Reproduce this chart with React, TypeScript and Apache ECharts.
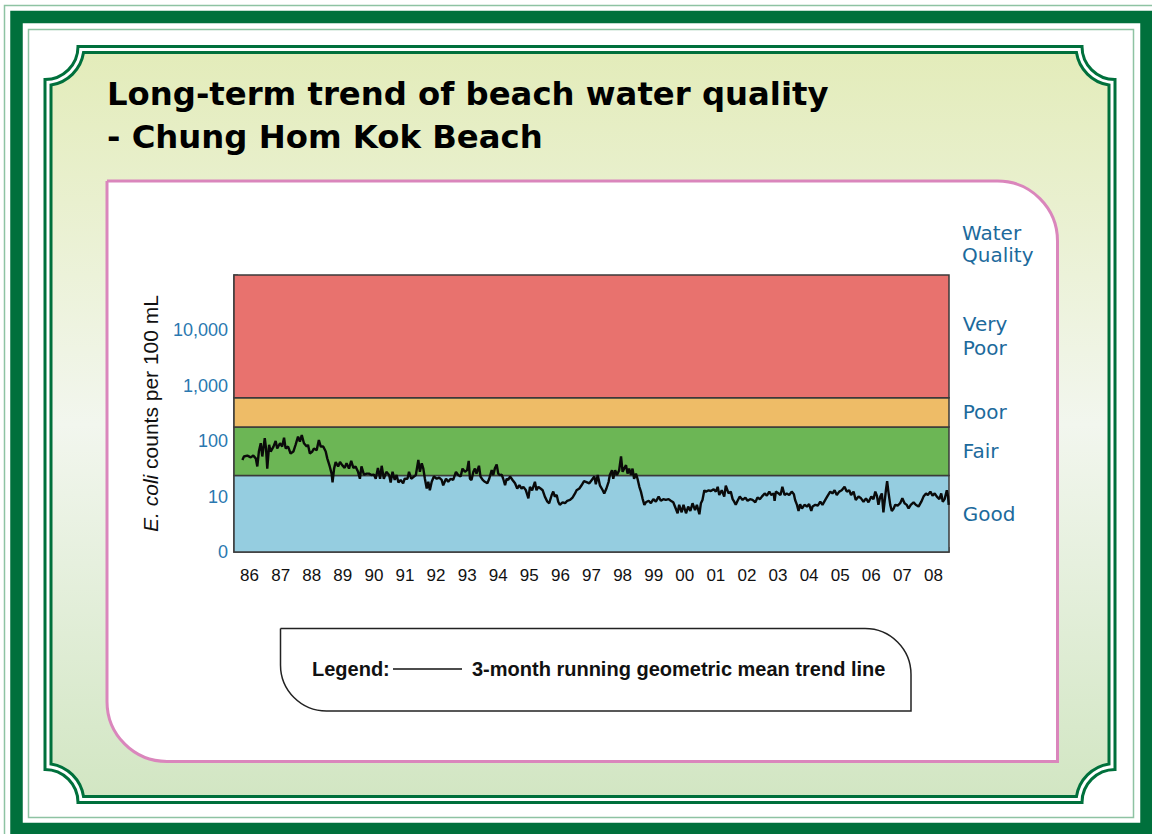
import React, { useEffect, useRef } from 'react';
import * as echarts from 'echarts';

// ---------- data ----------
const yearLabels = ['86', '87', '88', '89', '90', '91', '92', '93', '94', '95', '96', '97', '98', '99', '00', '01', '02', '03', '04', '05', '06', '07', '08'];
const yTickLabels = ['0', '10', '100', '1,000', '10,000'];
const bandNames = ['Good', 'Fair', 'Poor', 'Very\nPoor'];
const bandLimits = [1, 24, 180, 610, 100000];

const trend1986to1991: [number, number][] = [
  [1986.27, 46], [1986.32, 53], [1986.43, 55], [1986.54, 51], [1986.62, 55], [1986.70, 49], [1986.75, 35], [1986.80, 65], [1986.86, 92], [1986.91, 53],
  [1986.99, 113], [1987.03, 74], [1987.07, 32], [1987.13, 86], [1987.18, 65], [1987.27, 80], [1987.34, 101], [1987.39, 74], [1987.48, 92], [1987.55, 80],
  [1987.61, 116], [1987.66, 74], [1987.74, 80], [1987.82, 60], [1987.91, 65], [1987.98, 86], [1988.06, 121], [1988.12, 98], [1988.18, 129], [1988.25, 92],
  [1988.34, 80], [1988.38, 86], [1988.44, 60], [1988.52, 65], [1988.57, 74], [1988.66, 69], [1988.73, 105], [1988.79, 80], [1988.87, 80], [1988.95, 65],
  [1989.00, 49], [1989.08, 35], [1989.14, 26], [1989.17, 18], [1989.22, 32], [1989.27, 42], [1989.35, 35], [1989.41, 42], [1989.48, 37], [1989.56, 33],
  [1989.62, 40], [1989.70, 32], [1989.77, 44], [1989.84, 33], [1989.91, 35], [1989.99, 28], [1990.05, 21], [1990.10, 35], [1990.18, 25], [1990.27, 26],
  [1990.34, 26], [1990.42, 24.5], [1990.50, 25], [1990.56, 21], [1990.63, 33], [1990.70, 21], [1990.75, 36], [1990.82, 21], [1990.90, 28], [1990.99, 24.5],
  [1991.04, 18], [1991.10, 28], [1991.17, 20], [1991.23, 24.5], [1991.29, 18], [1991.36, 20], [1991.44, 17.4], [1991.49, 21], [1991.58, 21], [1991.63, 28],
  [1991.70, 21], [1991.79, 23],
];

const trend1991to1997: [number, number][] = [
  [1991.85, 24.5], [1991.93, 46], [1991.98, 28], [1992.04, 40], [1992.09, 32], [1992.14, 21], [1992.20, 14], [1992.25, 18.5], [1992.30, 13], [1992.36, 18.5],
  [1992.43, 23], [1992.52, 21], [1992.60, 22], [1992.68, 20], [1992.73, 16], [1992.82, 21], [1992.89, 18.5], [1992.97, 21], [1993.05, 20], [1993.14, 28],
  [1993.21, 24.5], [1993.29, 23], [1993.35, 32], [1993.43, 28], [1993.50, 30], [1993.55, 44], [1993.59, 21], [1993.64, 20], [1993.70, 28], [1993.75, 32],
  [1993.80, 26], [1993.88, 36], [1993.93, 23], [1994.00, 20], [1994.07, 18.5], [1994.15, 17.4], [1994.21, 21], [1994.29, 30], [1994.34, 24.5], [1994.39, 32],
  [1994.45, 38], [1994.50, 26], [1994.55, 24.5], [1994.61, 25], [1994.66, 21], [1994.72, 16], [1994.77, 21], [1994.82, 20], [1994.88, 23], [1994.96, 20],
  [1995.04, 17.4], [1995.11, 14], [1995.18, 16], [1995.25, 14], [1995.31, 15], [1995.39, 13], [1995.47, 9.3], [1995.52, 15], [1995.59, 13], [1995.68, 18.5],
  [1995.73, 13], [1995.79, 15], [1995.86, 14], [1995.93, 13], [1996.00, 10], [1996.08, 8.1], [1996.14, 7.6], [1996.22, 10.7], [1996.27, 12.3], [1996.32, 10],
  [1996.38, 10.7], [1996.43, 8.1], [1996.48, 7.1], [1996.57, 7.9], [1996.65, 7.6], [1996.72, 8.4], [1996.81, 8.7], [1996.89, 9.6], [1996.97, 11.4], [1997.02, 13],
  [1997.11, 14], [1997.18, 16], [1997.26, 19],
];

const trend1997to2003: [number, number][] = [
  [1997.32, 18.5], [1997.43, 17.4], [1997.51, 20], [1997.59, 23], [1997.64, 16.7], [1997.70, 24.5], [1997.77, 16], [1997.86, 13], [1997.91, 11.4], [1997.98, 14],
  [1998.05, 18.5], [1998.09, 24.5], [1998.16, 30], [1998.20, 21], [1998.26, 30], [1998.32, 24.5], [1998.39, 30], [1998.45, 53], [1998.50, 28], [1998.55, 32],
  [1998.61, 37], [1998.66, 26], [1998.71, 32], [1998.77, 24.5], [1998.82, 32], [1998.87, 21], [1998.93, 26], [1998.98, 21], [1999.04, 15], [1999.09, 12.3],
  [1999.14, 9.3], [1999.20, 7.1], [1999.25, 7.9], [1999.34, 8.4], [1999.41, 7.6], [1999.49, 9], [1999.57, 8.1], [1999.66, 10], [1999.73, 8.4], [1999.81, 9],
  [1999.89, 8.7], [1999.98, 9], [2000.05, 8.4], [2000.13, 7.9], [2000.21, 6.1], [2000.27, 5.0], [2000.32, 7.1], [2000.40, 5.2], [2000.46, 7.1], [2000.54, 5.0],
  [2000.61, 6.6], [2000.68, 5.5], [2000.75, 7.6], [2000.83, 5.7], [2000.89, 7.1], [2000.97, 4.8], [2001.02, 7.6], [2001.07, 8.7], [2001.13, 13], [2001.18, 12.3],
  [2001.27, 13], [2001.34, 12.6], [2001.43, 13.6], [2001.50, 12.3], [2001.56, 15], [2001.61, 10.7], [2001.69, 13], [2001.77, 10], [2001.82, 15.7], [2001.91, 11.4],
  [2001.98, 12.3], [2002.04, 9], [2002.09, 8.1], [2002.14, 7.1], [2002.20, 8.4], [2002.27, 10], [2002.36, 8.7], [2002.45, 9.6], [2002.52, 8.4], [2002.60, 9],
  [2002.68, 8.7], [2002.77, 7.9], [2002.84, 9.6], [2002.92, 9],
];

const trend2003to2009: [number, number][] = [
  [2002.98, 10], [2003.07, 11.4], [2003.14, 10.4], [2003.22, 12.3], [2003.28, 10.7], [2003.36, 11.4], [2003.39, 8.4], [2003.43, 12.3], [2003.52, 11.4], [2003.58, 10.7],
  [2003.64, 15], [2003.71, 10.7], [2003.78, 11.4], [2003.86, 10.7], [2003.94, 12.3], [2004.01, 11], [2004.05, 8.7], [2004.11, 7.1], [2004.16, 5.5], [2004.21, 7.3],
  [2004.27, 6.1], [2004.35, 7.1], [2004.43, 6.6], [2004.50, 7.3], [2004.57, 5.5], [2004.61, 6.6], [2004.70, 7.1], [2004.78, 6.9], [2004.86, 8.1], [2004.93, 7.1],
  [2005.02, 8.7], [2005.10, 10.4], [2005.18, 12.3], [2005.25, 11.4], [2005.32, 13], [2005.39, 10.7], [2005.47, 12.3], [2005.55, 13], [2005.64, 15], [2005.71, 12.3],
  [2005.79, 13], [2005.85, 10.7], [2005.93, 12.3], [2006.00, 8.7], [2006.09, 10], [2006.17, 9.3], [2006.25, 8.1], [2006.33, 9.3], [2006.41, 7.9], [2006.50, 10],
  [2006.57, 9], [2006.63, 12.3], [2006.68, 10.4], [2006.73, 7.1], [2006.79, 10], [2006.84, 11.4], [2006.89, 5.2], [2006.97, 13], [2007.01, 19], [2007.05, 12.3],
  [2007.11, 7.1], [2007.16, 5.5], [2007.22, 6.1], [2007.27, 7.1], [2007.35, 6.9], [2007.43, 7.6], [2007.50, 9.3], [2007.57, 7.6], [2007.64, 7.1], [2007.70, 6.1],
  [2007.77, 7.1], [2007.86, 7.9], [2007.93, 7.1], [2008.02, 6.6], [2008.11, 8.1], [2008.18, 10], [2008.26, 11.4], [2008.32, 10.7], [2008.40, 12.3], [2008.47, 10.4],
  [2008.54, 11.4], [2008.61, 10], [2008.69, 9], [2008.75, 11.4], [2008.80, 8.1], [2008.86, 9], [2008.93, 13], [2008.97, 10], [2008.99, 7.1],
];

// ---------- styles ----------
const bandColors = ['#95CDE0', '#6CB655', '#EEBC67', '#E8726E'];
const DARK_GREEN = '#00703C';
const LIGHT_GREEN = '#8EC3A3';

function concavePath(l: number, t: number, r: number, b: number, cl: number, ct: number, cr: number, cb: number, rad: number) {
  const dx = l - cl;
  const dy = t - ct;
  const ax = Math.sqrt(rad * rad - dy * dy);
  const ay = Math.sqrt(rad * rad - dx * dx);
  return [
    `M ${l} ${ct + ay}`,
    `A ${rad} ${rad} 0 0 0 ${cl + ax} ${t}`,
    `L ${cr - ax} ${t}`,
    `A ${rad} ${rad} 0 0 0 ${r} ${ct + ay}`,
    `L ${r} ${cb - ay}`,
    `A ${rad} ${rad} 0 0 0 ${cr - ax} ${b}`,
    `L ${cl + ax} ${b}`,
    `A ${rad} ${rad} 0 0 0 ${l} ${cb - ay}`,
    'Z',
  ].join(' ');
}

const OL = 45, OT = 46.5, OR = 1115, OB = 802.5, RAD = 33, GAP = 6;
echarts.graphic.registerShape('frameOuter', echarts.graphic.extendPath(concavePath(OL, OT, OR, OB, OL, OT, OR, OB, RAD), {}));
echarts.graphic.registerShape('frameInner', echarts.graphic.extendPath(concavePath(OL + GAP, OT + GAP, OR - GAP, OB - GAP, OL, OT, OR, OB, RAD + GAP), {}));

const trend = [...trend1986to1991, ...trend1991to1997, ...trend1997to2003, ...trend2003to2009];

export default function App() {
  const ref = useRef<HTMLDivElement>(null);
  useEffect(() => {
    const chart = echarts.init(ref.current!, null, { renderer: 'svg' });
    const gradient = new echarts.graphic.LinearGradient(0, 0, 0, 1, [
      { offset: 0, color: '#E3ECBA' },
      { offset: 0.5, color: '#F2F6EE' },
      { offset: 1, color: '#D2E6C3' },
    ]);
    const option: any = {
      animation: false,
      grid: { left: 234, right: 203, top: 275, bottom: 282, show: false },
      xAxis: [
        {
          type: 'category',
          data: yearLabels,
          boundaryGap: true,
          axisLine: { show: true, lineStyle: { color: '#6b6b6b', width: 2 } },
          axisTick: { show: true, inside: true, length: 5, interval: 0, lineStyle: { color: '#6b6b6b', width: 1.5 } },
          axisLabel: { interval: 0, margin: 15, color: '#111', fontSize: 17, fontFamily: 'Liberation Sans' },
          splitLine: { show: false },
        },
        { type: 'value', min: 1986, max: 2009, show: false },
      ],
      yAxis: {
        type: 'value',
        min: 0,
        max: 5,
        interval: 0.5,
        name: '{i|E. coli} counts per 100 mL',
        nameLocation: 'middle',
        nameGap: 73,
        nameRotate: 90,
        nameTextStyle: {
          color: '#111', fontSize: 21, fontFamily: 'Liberation Sans',
          rich: { i: { fontStyle: 'italic', fontSize: 21, fontFamily: 'Liberation Sans', color: '#111' } },
        },
        axisLine: { show: true, lineStyle: { color: '#6b6b6b', width: 2 } },
        axisTick: { show: true, inside: true, length: 4, lineStyle: { color: '#6b6b6b', width: 1.5 } },
        axisLabel: {
          margin: 6,
          color: '#2A78B0',
          fontSize: 18,
          fontFamily: 'Liberation Sans',
          formatter: (v: number) => {
            const r = Math.round(v);
            return Math.abs(v - r) < 1e-6 && r < yTickLabels.length ? yTickLabels[r] : '';
          },
        },
        splitLine: { show: false },
      },
      series: [
        {
          type: 'line',
          xAxisIndex: 1,
          data: trend.map(([yr, c]) => [yr, Math.log10(c)]),
          symbol: 'none',
          showSymbol: false,
          lineStyle: { color: '#0a0a0a', width: 2.4 },
          z: 5,
          markArea: {
            silent: true,
            itemStyle: { borderColor: '#3a3a3a', borderWidth: 1.5 },
            label: {
              show: true, position: 'right', distance: 13, color: '#1C6A9C', fontSize: 20,
              fontFamily: 'DejaVu Sans', lineHeight: 24, align: 'left', formatter: '{b}',
            },
            data: bandNames.map((n, i) => [
              { name: n, yAxis: Math.log10(bandLimits[i]), itemStyle: { color: bandColors[i] } },
              { yAxis: Math.log10(bandLimits[i + 1]) },
            ]),
          },
        },
      ],
      graphic: [
        { type: 'rect', z: -10, shape: { x: 4.5, y: 5.5, width: 1160, height: 840 }, style: { fill: 'none', stroke: LIGHT_GREEN, lineWidth: 1.5 } },
        { type: 'rect', z: -10, shape: { x: 16.5, y: 17, width: 1130, height: 812 }, style: { fill: 'none', stroke: DARK_GREEN, lineWidth: 12.5 } },
        { type: 'rect', z: -10, shape: { x: 28.5, y: 29.5, width: 1105, height: 788 }, style: { fill: 'none', stroke: LIGHT_GREEN, lineWidth: 1.5 } },
        { type: 'frameOuter', z: -10, x: 0, y: 0, style: { fill: 'none', stroke: DARK_GREEN, lineWidth: 3 } },
        { type: 'frameInner', z: -10, x: 0, y: 0, style: { fill: gradient, stroke: DARK_GREEN, lineWidth: 3 } },
        { type: 'rect', z: -9, shape: { x: 107, y: 181, width: 950.5, height: 580.5, r: [0, 60, 0, 60] }, style: { fill: '#fff', stroke: '#DA86BC', lineWidth: 3 } },
        { type: 'rect', z: -8, shape: { x: 280.5, y: 628.5, width: 630.5, height: 82.5, r: [0, 46, 0, 46] }, style: { fill: '#fff', stroke: '#222', lineWidth: 1.5 } },
        { type: 'line', z: -7, shape: { x1: 393, y1: 669, x2: 462, y2: 669 }, style: { stroke: '#111', lineWidth: 1.5 } },
        { type: 'text', z: -7, style: { x: 312, y: 669, text: 'Legend:', fill: '#111', font: 'bold 20px "Liberation Sans"', textAlign: 'left', textVerticalAlign: 'middle' } },
        { type: 'text', z: -7, style: { x: 472, y: 669, text: '3-month running geometric mean trend line', fill: '#111', font: 'bold 20px "Liberation Sans"', textAlign: 'left', textVerticalAlign: 'middle' } },
        { type: 'text', z: -7, style: { x: 107, y: 94, text: 'Long-term trend of beach water quality', fill: '#000', font: 'bold 32.3px "DejaVu Sans"', textAlign: 'left', textVerticalAlign: 'middle' } },
        { type: 'text', z: -7, style: { x: 107, y: 137, text: '- Chung Hom Kok Beach', fill: '#000', font: 'bold 32.3px "DejaVu Sans"', textAlign: 'left', textVerticalAlign: 'middle' } },
        { type: 'text', z: -7, style: { x: 962, y: 233, text: 'Water', fill: '#1C6A9C', font: '20px "DejaVu Sans"', textAlign: 'left', textVerticalAlign: 'middle' } },
        { type: 'text', z: -7, style: { x: 962, y: 255, text: 'Quality', fill: '#1C6A9C', font: '20px "DejaVu Sans"', textAlign: 'left', textVerticalAlign: 'middle' } },
      ],
    };
    chart.setOption(option);
    return () => chart.dispose();
  }, []);
  return <div ref={ref} style={{ position: 'absolute', left: 0, top: 0, width: 1152, height: 834 }} />;
}
